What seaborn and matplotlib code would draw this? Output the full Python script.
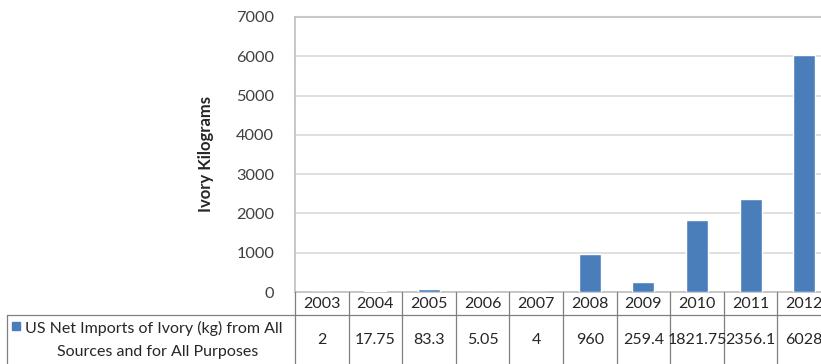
import matplotlib
matplotlib.use("Agg")
import matplotlib.pyplot as plt
import seaborn as sns
import pandas as pd
from matplotlib.lines import Line2D
from matplotlib.patches import Rectangle
import matplotlib.transforms as mtransforms

years = ["2003", "2004", "2005", "2006", "2007", "2008", "2009", "2010", "2011", "2012"]
values = [2, 17.75, 83.3, 5.05, 4, 960, 259.4, 1821.75, 2356.1, 6028]
value_labels = ["2", "17.75", "83.3", "5.05", "4", "960", "259.4", "1821.75", "2356.1", "6028"]
series_name_lines = ["US Net Imports of Ivory (kg) from All", "Sources and for All Purposes"]
y_ticks = [0, 1000, 2000, 3000, 4000, 5000, 6000, 7000]
y_label = "Ivory Kilograms"

sns.set_style("white")
plt.rcParams["font.family"] = ["Lato", "DejaVu Sans"]

W, H = 821, 364
fig = plt.figure(figsize=(W / 100, H / 100), dpi=100)
fig.patch.set_facecolor("white")

left_px, right_px, top_px, bottom_px = 295, 831, 17, 292
ax = fig.add_axes([left_px / W, (H - bottom_px) / H, (right_px - left_px) / W, (bottom_px - top_px) / H])

df = pd.DataFrame({"year": years, "value": values})
BLUE = "#4a7ebb"
sns.barplot(data=df, x="year", y="value", color=BLUE, width=0.41, saturation=1, ax=ax, zorder=3)

ax.set_xlim(-0.5, len(years) - 0.5)
ax.set_ylim(0, 7000)
ax.set_yticks(y_ticks)
ax.set_yticklabels([str(t) for t in y_ticks], fontsize=11.8, color="#404040")
ax.tick_params(axis="y", length=0, pad=15)
ax.set_xticks([])
ax.set_xlabel("")
ax.set_ylabel(y_label, fontsize=12, fontweight="bold", color="#262626", labelpad=16)
ax.yaxis.grid(True, color="#d9d9d9", linewidth=1.2, zorder=0)
for s in ["top", "right"]:
    ax.spines[s].set_visible(False)
ax.spines["left"].set_color("#bfbfbf")
ax.spines["bottom"].set_color("#bfbfbf")
ax.spines["left"].set_linewidth(1.2)
ax.spines["bottom"].set_linewidth(1.2)
ax.axhline(7000, color="#c8c8c8", linewidth=1.5, zorder=1, clip_on=False)

# ---- data table below ----
fig_tr = fig.transFigure
blend = mtransforms.blended_transform_factory(ax.transData, fig_tr)
def fy(px):
    return (H - px) / H

row1_top, row1_bot, row2_bot = 292, 315, 364
line_col = "#7f7f7f"
n = len(years)
for i in range(n + 1):
    x = i - 0.5
    fig.add_artist(Line2D([x, x], [fy(row1_top), fy(row2_bot)], transform=blend, color=line_col, lw=0.9))
fig.add_artist(Line2D([7 / W, 1.0], [fy(row1_bot), fy(row1_bot)], transform=fig_tr, color=line_col, lw=0.9))
fig.add_artist(Line2D([7 / W, 7 / W], [fy(row1_bot), fy(row2_bot)], transform=fig_tr, color=line_col, lw=0.9))

for i, (yr, lab) in enumerate(zip(years, value_labels)):
    fig.text(i, fy((row1_top + row1_bot) / 2), yr, transform=blend, ha="center", va="center",
             fontsize=11.5, color="#262626")
    fig.text(i, fy((row1_bot + row2_bot) / 2), lab, transform=blend, ha="center", va="center",
             fontsize=11.5, color="#262626")

fig.add_artist(Rectangle((12 / W, fy(330)), 8 / W, 8 / H, transform=fig_tr, color=BLUE))
fig.text(25 / W, fy(328), series_name_lines[0], transform=fig_tr, ha="left", va="center",
         fontsize=11.5, color="#262626")
fig.text(158 / W, fy(352), series_name_lines[1], transform=fig_tr, ha="center", va="center",
         fontsize=11.5, color="#262626")

fig.savefig("out.png", dpi=100)
